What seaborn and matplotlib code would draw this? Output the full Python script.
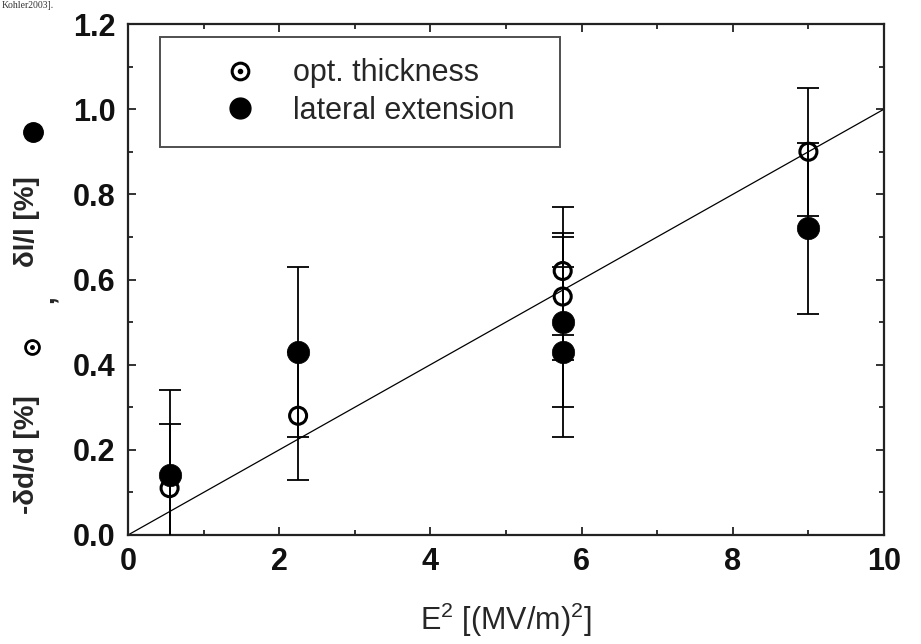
import matplotlib
matplotlib.use("Agg")
import matplotlib.pyplot as plt
from matplotlib.lines import Line2D
from matplotlib.legend_handler import HandlerTuple
from matplotlib.ticker import MultipleLocator
import seaborn as sns
import pandas as pd

# ---- data ----
opt_x = [0.55, 2.25, 5.75, 5.75, 9.0]
opt_y = [0.11, 0.28, 0.62, 0.56, 0.90]
opt_err = [0.15, 0.15, 0.15, 0.15, 0.15]

lat_x = [0.55, 2.25, 5.75, 5.75, 9.0]
lat_y = [0.14, 0.43, 0.50, 0.43, 0.72]
lat_err = [0.20, 0.20, 0.20, 0.20, 0.20]

fit_x = [0.0, 10.0]
fit_y = [0.0, 1.0]

x_ticks = [0, 2, 4, 6, 8, 10]
y_ticks = [0.0, 0.2, 0.4, 0.6, 0.8, 1.0, 1.2]
legend_labels = ["opt. thickness", "lateral extension"]

sns.set_style("ticks")
plt.rcParams['font.family'] = ['Liberation Sans', 'DejaVu Sans']
plt.rcParams['mathtext.fontset'] = 'custom'
plt.rcParams['mathtext.rm'] = 'Liberation Sans'

fig = plt.figure(figsize=(9.21, 6.44), dpi=100)
ax = fig.add_axes([128/921, 1 - 535/644, (884-128)/921, (535-24)/644])

df_opt = pd.DataFrame({"x": opt_x, "y": opt_y})
df_lat = pd.DataFrame({"x": lat_x, "y": lat_y})
df_fit = pd.DataFrame({"x": fit_x, "y": fit_y})

sns.lineplot(data=df_fit, x="x", y="y", ax=ax, color="black", linewidth=0.9, zorder=2)

ax.errorbar(opt_x, opt_y, yerr=opt_err, fmt='none', ecolor='black',
            elinewidth=1.3, capsize=8, capthick=1.3, zorder=3)
ax.errorbar(lat_x, lat_y, yerr=lat_err, fmt='none', ecolor='black',
            elinewidth=1.3, capsize=8, capthick=1.3, zorder=3)

sns.scatterplot(data=df_opt, x="x", y="y", ax=ax, marker='o', s=150,
                facecolors='none', edgecolor='black', linewidth=2.2, zorder=4)
sns.scatterplot(data=df_lat, x="x", y="y", ax=ax, marker='o', s=260,
                color='black', edgecolor='black', linewidth=0.5, zorder=5)

ax.set_xlim(0, 10)
ax.set_ylim(0, 1.2)
ax.set_xticks(x_ticks)
ax.set_yticks(y_ticks)
ax.set_xticklabels([str(t) for t in x_ticks])
ax.set_yticklabels([f"{t:.1f}" for t in y_ticks])
ax.xaxis.set_minor_locator(MultipleLocator(1))
ax.yaxis.set_minor_locator(MultipleLocator(0.1))

ax.tick_params(which='both', direction='in', top=True, right=True,
               width=1.3, color='#222222')
ax.tick_params(which='major', length=6, labelsize=22, pad=9)
ax.tick_params(which='minor', length=3.5)
for lab in ax.get_xticklabels() + ax.get_yticklabels():
    lab.set_fontweight('bold')
    lab.set_color('#111111')
for sp in ax.spines.values():
    sp.set_linewidth(1.6)
    sp.set_color('#222222')
    sp.set_visible(True)

ax.set_xlabel(r"E$^2$ [(MV/m)$^2$]", fontsize=22, labelpad=17)
ax.set_ylabel("")

# legend
h_open = Line2D([], [], marker='o', linestyle='none', markersize=12,
                markerfacecolor='none', markeredgecolor='black', markeredgewidth=2.2)
h_dot = Line2D([], [], marker='o', linestyle='none', markersize=3,
               markerfacecolor='black', markeredgecolor='black')
h_fill = Line2D([], [], marker='o', linestyle='none', markersize=15,
                markerfacecolor='black', markeredgecolor='black')
leg = ax.legend([(h_open, h_dot), h_fill], legend_labels,
                handler_map={tuple: HandlerTuple(ndivide=1, pad=0)},
                loc='upper left', bbox_to_anchor=(0.0423, 0.9746, 0.529, 0.0),
                mode='expand', borderaxespad=0, fontsize=22, frameon=True,
                fancybox=False, borderpad=0.7, handlelength=3.82,
                handletextpad=-0.17, labelspacing=0.25)
leg.get_frame().set_edgecolor('#222222')
leg.get_frame().set_linewidth(1.4)

# composite y-label
H = 644.0
def fy(py):
    return 1 - py / H
fig.text(27/921, fy(455), "-δd/d [%]", rotation=90, ha='center', va='center',
         fontsize=20, fontweight='bold')
fig.text(46/921, fy(299), ",", rotation=90, ha='center', va='center',
         fontsize=20, fontweight='bold')
fig.text(27/921, fy(222), "δl/l [%]", rotation=90, ha='center', va='center',
         fontsize=20, fontweight='bold')
fig.add_artist(Line2D([32/921], [fy(347)], marker='o', linestyle='none',
                      markersize=10, markerfacecolor='none', markeredgecolor='black',
                      markeredgewidth=2, transform=fig.transFigure))
fig.add_artist(Line2D([32/921], [fy(347)], marker='o', linestyle='none',
                      markersize=2.5, markerfacecolor='black', markeredgecolor='black',
                      transform=fig.transFigure))
fig.add_artist(Line2D([33/921], [fy(132)], marker='o', linestyle='none',
                      markersize=14, markerfacecolor='black', markeredgecolor='black',
                      transform=fig.transFigure))

# small text fragment at the very top (kept fully inside the figure)
fig.text(0.002, fy(8), "Kohler2003].", ha='left', va='baseline', fontsize=7,
         color='#333333', family=['Liberation Serif', 'DejaVu Serif'])

fig.savefig("out.png", dpi=100)
